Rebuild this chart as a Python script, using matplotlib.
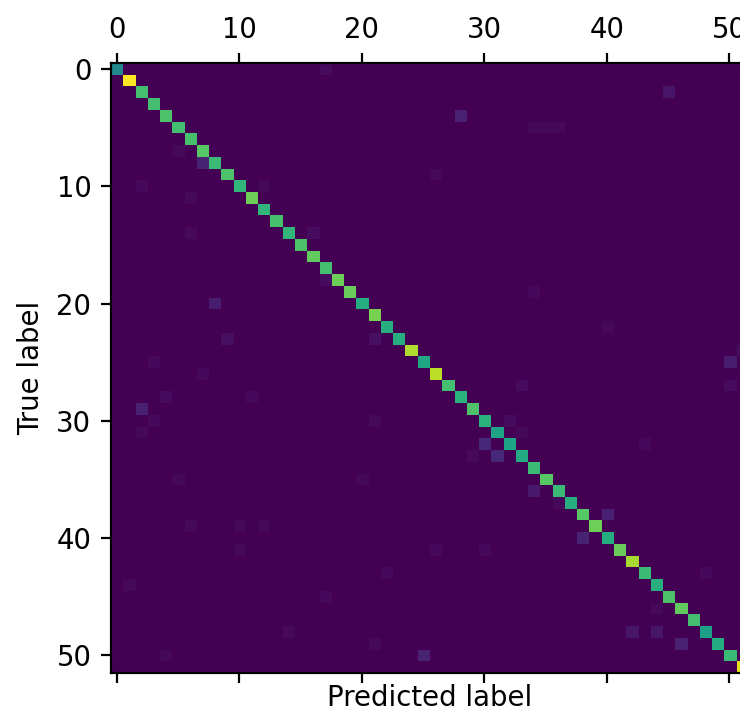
import numpy as np
import matplotlib
matplotlib.use("Agg")
import matplotlib.pyplot as plt

n_classes = 52

diag_counts = [48, 100, 70, 70, 72, 70, 71, 74, 68, 72,
               66, 78, 66, 71, 66, 72, 76, 70, 78, 77,
               62, 80, 63, 63, 88, 59, 90, 70, 64, 72,
               64, 58, 58, 61, 68, 74, 68, 63, 74, 78,
               62, 77, 87, 68, 63, 72, 76, 70, 57, 62,
               68, 96]

# faint off-diagonal confusions: (true, predicted, count)
off_true = [0, 2, 4, 5, 5, 5, 7, 8, 9, 10, 10, 11, 14, 14, 18, 19, 20, 22, 23,
            23, 24, 25, 25, 26, 27, 27, 28, 28, 29, 30, 30, 30, 31, 31, 32, 32,
            33, 33, 35, 35, 36, 37, 38, 39, 39, 39, 40, 41, 41, 41, 43, 43, 44,
            45, 46, 48, 48, 48, 49, 49, 50, 50]
off_pred = [17, 45, 28, 34, 35, 36, 5, 7, 26, 2, 12, 6, 6, 16, 17, 34, 8, 40, 21,
            9, 51, 3, 50, 7, 50, 33, 4, 11, 2, 3, 32, 21, 2, 33, 30, 43,
            31, 29, 5, 20, 34, 36, 40, 6, 10, 12, 38, 10, 26, 30, 22, 48, 1,
            17, 44, 14, 42, 44, 21, 46, 4, 25]
off_vals = [3, 6, 9, 2, 2, 2, 2, 10, 2, 2, 2, 2, 2, 3, 3, 2, 8, 2, 4,
            4, 4, 2, 8, 2, 3, 3, 3, 2, 9, 2, 3, 2, 2, 2, 11, 2,
            11, 2, 2, 2, 7, 2, 9, 2, 2, 2, 10, 2, 2, 2, 2, 2, 2,
            2, 2, 2, 6, 6, 2, 9, 2, 10]

cm = np.zeros((n_classes, n_classes))
cm[np.arange(n_classes), np.arange(n_classes)] = diag_counts
for t, p, v in zip(off_true, off_pred, off_vals):
    cm[t, p] = v

fig = plt.figure(figsize=(740 / 198, 709 / 198), dpi=198)
ax = fig.add_axes([0.1495, 0.0508, 0.861, 0.860])
ax.matshow(cm, cmap="viridis", vmin=0, vmax=100, aspect="auto")
ax.set_xticks(range(0, 51, 10))
ax.set_yticks(range(0, 51, 10))
ax.set_xlabel("Predicted label", labelpad=0.5)
ax.set_ylabel("True label")

fig.savefig("out.png", dpi=198)
